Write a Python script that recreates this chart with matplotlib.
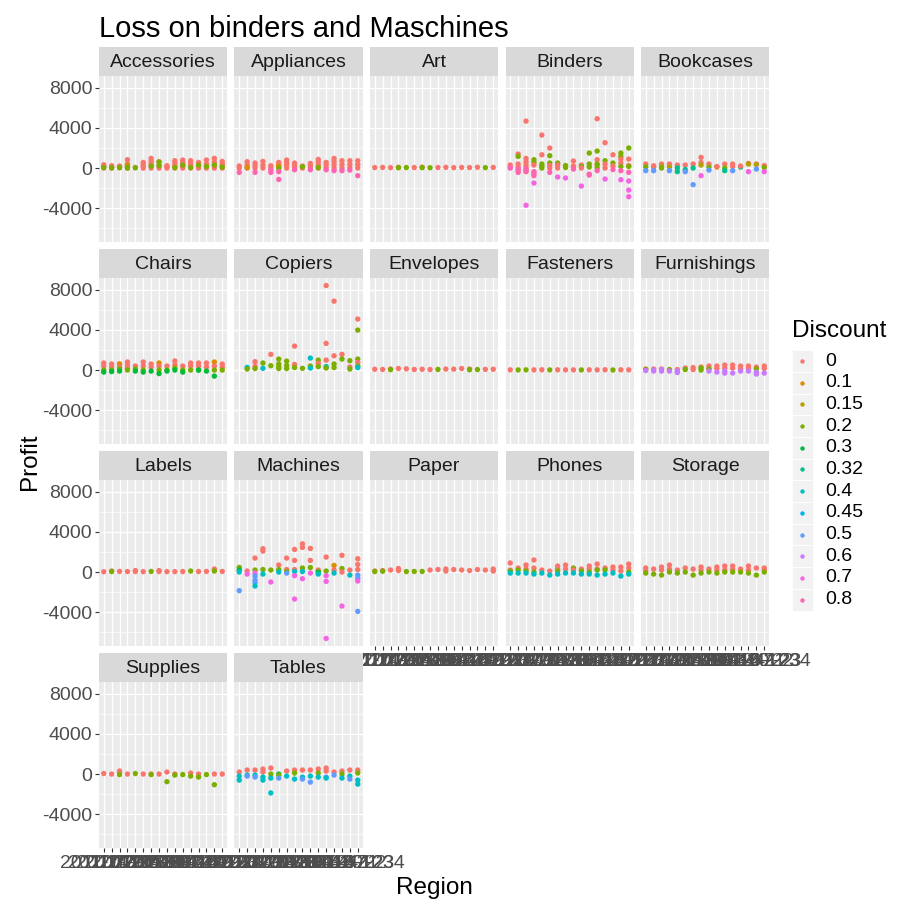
import matplotlib
matplotlib.use("Agg")
import matplotlib.pyplot as plt
from matplotlib.patches import Rectangle

plt.rcParams['font.family'] = ['Liberation Sans', 'DejaVu Sans']
plt.rcParams['axes.unicode_minus'] = False

# x categories (labels overlap in the original, as here)
x_labels = ["2011-1-03", "2011-4-07", "2011-7-11", "2011-10-2", "2012-1-06", "2012-4-10", "2012-7-14",
            "2012-10-8", "2013-1-12", "2013-4-16", "2013-7-20", "2013-10-1", "2014-1-21", "2014-4-22",
            "2014-7-23", "2014-1234"]

discounts = [0, 0.1, 0.15, 0.2, 0.3, 0.32, 0.4, 0.45, 0.5, 0.6, 0.7, 0.8]
discount_labels = ["0", "0.1", "0.15", "0.2", "0.3", "0.32", "0.4", "0.45", "0.5", "0.6", "0.7", "0.8"]
discount_colors = ["#F8766D", "#DE8C00", "#B79F00", "#7CAE00", "#00BA38", "#00C08B",
                   "#00BFC4", "#00B4F0", "#619CFF", "#C77CFF", "#F564E3", "#FF64B0"]

# points per sub-category: (x index, discount, profit)
accessories = [
    (0, 0, 0), (0, 0, 150), (0, 0, 330), (0, .2, 50),
    (1, 0, 0), (1, 0, 100), (1, 0, 230), (1, .2, 20),
    (2, 0, 50), (2, 0, 200), (2, .2, 30),
    (3, 0, 0), (3, 0, 200), (3, 0, 400), (3, 0, 830), (3, .1, 300), (3, .2, 100), (3, .2, 0),
    (4, 0, 60), (4, .2, 20),
    (5, 0, 0), (5, 0, 200), (5, 0, 400), (5, 0, 560),
    (6, 0, 0), (6, 0, 250), (6, 0, 500), (6, 0, 700), (6, 0, 960), (6, .2, 200),
    (7, 0, 0), (7, 0, 250), (7, 0, 630), (7, .2, 600), (7, .2, 250),
    (8, 0, 0), (8, 0, 120), (8, 0, 230),
    (9, 0, 0), (9, 0, 250), (9, 0, 480), (9, 0, 730), (9, .2, 50),
    (10, 0, 0), (10, 0, 200), (10, 0, 400), (10, 0, 600), (10, 0, 800), (10, .2, 300),
    (11, 0, 0), (11, 0, 250), (11, 0, 480), (11, 0, 730), (11, .2, 50),
    (12, 0, 0), (12, 0, 200), (12, 0, 560), (12, .2, 300),
    (13, 0, 0), (13, 0, 200), (13, 0, 400), (13, 0, 800), (13, .2, 150),
    (14, 0, 0), (14, 0, 300), (14, 0, 600), (14, 0, 960), (14, .2, 300),
    (15, 0, 0), (15, 0, 200), (15, 0, 400), (15, 0, 660), (15, .2, 100),
]
appliances = [
    (0, 0, 0), (0, 0, 200), (0, .8, -430),
    (1, 0, 0), (1, 0, 300), (1, 0, 630), (1, .1, 60),
    (2, 0, 0), (2, 0, 250), (2, 0, 500), (2, .8, -430),
    (3, 0, 0), (3, 0, 300), (3, 0, 660),
    (4, 0, 0), (4, 0, 230), (4, .8, -200), (4, .8, -430),
    (5, 0, 0), (5, 0, 300), (5, 0, 560), (5, .1, 200), (5, .2, 0), (5, .8, -360), (5, .8, -1130),
    (6, 0, 0), (6, 0, 300), (6, 0, 550), (6, 0, 800),
    (7, 0, 0), (7, 0, 250), (7, 0, 500), (7, .8, -170),
    (8, 0, 0), (8, 0, 200), (8, .2, 130),
    (9, 0, 0), (9, 0, 250), (9, 0, 460), (9, .8, -170),
    (10, 0, 0), (10, 0, 300), (10, 0, 600), (10, 0, 860), (10, .2, 50),
    (11, 0, 0), (11, 0, 300), (11, 0, 560), (11, .8, -170),
    (12, 0, 0), (12, 0, 350), (12, 0, 650), (12, 0, 960), (12, .8, -260),
    (13, 0, 0), (13, 0, 350), (13, 0, 730), (13, .8, -260),
    (14, 0, 0), (14, 0, 350), (14, 0, 730), (14, .8, -200),
    (15, 0, 0), (15, 0, 350), (15, 0, 730), (15, .8, -760),
]
art = [
    (0, 0, 50), (1, 0, 60), (2, 0, 40), (3, 0, 80), (3, .2, 30), (4, .2, 50), (5, 0, 50), (6, 0, 90),
    (6, .2, 40), (7, .2, 30), (8, 0, 50), (9, 0, 70), (10, 0, 40), (11, 0, 60), (12, 0, 50),
    (13, 0, 80), (14, .2, 40), (15, 0, 60),
]
binders = [
    (0, 0, 300), (0, .7, 0), (0, .8, 50),
    (1, 0, 1390), (1, .2, 1160), (1, 0, 400), (1, 0, 100), (1, 0, -200), (1, .8, -100), (1, .8, -430),
    (2, 0, 4670), (2, 0, 960), (2, 0, 600), (2, 0, 300), (2, 0, 0), (2, 0, -360), (2, .8, -100),
    (2, .8, -300), (2, .7, -3700),
    (3, .2, 830), (3, .2, 560), (3, 0, 300), (3, .8, -360), (3, .8, -560), (3, .8, -760), (3, .7, -1490),
    (4, 0, 3280), (4, 0, 1320), (4, .2, 400), (4, .2, 200), (4, .2, 0),
    (5, 0, 1990), (5, .2, 1230), (5, .2, 500), (5, 0, 250), (5, 0, 0), (5, .8, -430),
    (6, .2, 500), (6, 0, 300), (6, 0, 0), (6, .7, -890),
    (7, .2, 250), (7, .2, 50), (7, .7, -990),
    (8, 0, 700), (8, 0, 200), (8, 0, 50), (8, .8, -100),
    (9, 0, 300), (9, .2, 150), (9, 0, 0), (9, .7, -1790),
    (10, .2, 1490), (10, .2, 400), (10, .2, 100), (10, .8, -600), (10, .8, -700),
    (11, 0, 4900), (11, .2, 1690), (11, 0, 830), (11, 0, 300), (11, .2, 400), (11, .2, 0), (11, .8, -260),
    (12, 0, 2520), (12, .2, 730), (12, 0, 400), (12, 0, 0), (12, .7, -1090),
    (13, 0, 1320), (13, .2, 500), (13, 0, 200), (13, .8, -150),
    (14, .2, 1490), (14, .2, 1160), (14, 0, 890), (14, 0, 500), (14, .2, 150), (14, .8, -260),
    (14, .7, -1160),
    (15, .2, 1990), (15, 0, 890), (15, 0, 250), (15, .2, 150), (15, .8, -430), (15, .7, -1290),
    (15, .7, -2190), (15, .7, -2850),
]
bookcases = [
    (0, 0, 400), (0, .2, 100), (0, .5, -260),
    (1, 0, 230), (1, 0, 50), (1, .5, -260),
    (2, 0, 400), (2, .15, 150), (2, .2, 0),
    (3, 0, 400), (3, .15, 100), (3, .5, -260),
    (4, 0, 300), (4, .32, 0), (4, .32, -360),
    (5, 0, 300), (5, .32, -150), (5, .5, -360),
    (6, 0, 400), (6, .32, 0), (6, .5, -1650),
    (7, 0, 1060), (7, 0, 550), (7, .15, 300), (7, .7, -760),
    (8, 0, 400), (8, .2, 100), (8, .5, -200),
    (9, .15, 100), (9, 0, 150),
    (10, 0, 400), (10, .2, 0), (10, .32, -260),
    (11, 0, 400), (11, 0, 150), (11, .5, -260),
    (12, .32, 100), (12, 0, 200),
    (13, 0, 460), (13, .15, 400), (13, .7, -360),
    (14, 0, 400), (14, .15, 350), (14, .5, -100),
    (15, 0, 250), (15, .2, 50), (15, .7, -360),
]
chairs = [
    (0, 0, 700), (0, 0, 400), (0, .2, 0), (0, .3, -200),
    (1, 0, 600), (1, 0, 300), (1, .2, 0), (1, .3, -150),
    (2, 0, 600), (2, .1, 600), (2, 0, 300), (2, .2, 100), (2, .3, -100),
    (3, 0, 800), (3, 0, 500), (3, 0, 200), (3, .2, 0),
    (4, 0, 400), (4, .2, 100), (4, .3, -100),
    (5, 0, 800), (5, 0, 400), (5, .2, 0), (5, .3, -200),
    (6, 0, 600), (6, 0, 300), (6, .3, -100),
    (7, .1, 700), (7, 0, 400), (7, .2, 0), (7, .3, -350),
    (8, 0, 400), (8, .2, 0), (8, .3, -100),
    (9, 0, 900), (9, 0, 500), (9, .2, 200), (9, .3, 0),
    (10, 0, 400), (10, .2, 0), (10, .3, -200),
    (11, 0, 700), (11, 0, 400), (11, .2, 0),
    (12, 0, 700), (12, 0, 400), (12, .2, 0), (12, .3, 0),
    (13, 0, 700), (13, 0, 300), (13, .3, -100),
    (14, .1, 800), (14, 0, 400), (14, .2, 0), (14, .3, -600),
    (15, 0, 600), (15, 0, 300), (15, .2, 0),
]
copiers = [
    (1, .4, 260), (1, .2, 100),
    (2, 0, 830), (2, 0, 360), (2, .2, 150),
    (3, .2, 700), (3, .4, 170),
    (4, 0, 1560), (4, .2, 430),
    (5, .2, 1090), (5, .2, 600), (5, .2, 350), (5, .2, 150),
    (6, .2, 890), (6, .2, 450), (6, .2, 150),
    (7, 0, 2380), (7, 0, 560), (7, .2, 250),
    (8, .2, 170),
    (9, .4, 1190), (9, .2, 400), (9, .4, 200),
    (10, .2, 990), (10, 0, 660), (10, .2, 350),
    (11, 0, 8400), (11, 0, 2650), (11, 0, 990), (11, .4, 350), (11, .2, 200),
    (12, 0, 6850), (12, 0, 1420), (12, .2, 600), (12, .2, 250),
    (13, 0, 1560), (13, .2, 1090),
    (14, .2, 930), (14, 0, 300), (14, .2, 100),
    (15, 0, 5070), (15, .2, 3970), (15, .2, 1090), (15, 0, 760), (15, .2, 400), (15, .4, 250),
]
envelopes = [
    (0, 0, 80), (1, 0, 60), (2, 0, 100), (2, .2, 40), (3, 0, 150), (4, 0, 120), (5, 0, 60), (6, 0, 80),
    (7, 0, 50), (8, .2, 60), (9, 0, 100), (10, 0, 90), (11, 0, 150), (12, 0, 100), (12, .2, 30),
    (13, .2, 50), (14, 0, 70), (15, 0, 80),
]
fasteners = [
    (0, 0, 20), (1, .2, 15), (2, .2, 20), (3, 0, 20), (4, 0, 30), (5, .2, 15), (6, 0, 25), (7, 0, 20),
    (8, 0, 20), (9, .2, 15), (10, 0, 25), (11, 0, 20), (12, 0, 30), (13, .2, 10), (14, 0, 25), (15, 0, 20),
]
furnishings = [
    (0, 0, 100), (0, .2, 50), (0, .6, -50),
    (1, 0, 100), (1, .6, 0), (1, .6, -100),
    (2, 0, 100), (2, .6, 50), (2, .6, -100),
    (3, 0, 0), (3, .2, 50), (3, .6, -100),
    (4, 0, 50), (4, .6, -100), (4, .6, -250),
    (5, 0, 200), (5, .2, 50),
    (6, 0, 250), (6, 0, 50),
    (7, 0, 300), (7, .2, 200), (7, .2, 0),
    (8, 0, 400), (8, 0, 150), (8, .2, 100), (8, .6, -100),
    (9, 0, 400), (9, 0, 150), (9, .6, -200),
    (10, 0, 500), (10, 0, 200), (10, .6, -100), (10, .6, -300),
    (11, 0, 500), (11, 0, 200), (11, .6, -300),
    (12, 0, 400), (12, 0, 100), (12, .6, -100),
    (13, 0, 400), (13, 0, 150), (13, .6, -100),
    (14, 0, 300), (14, .2, 100), (14, .6, -200), (14, .6, -400),
    (15, 0, 400), (15, 0, 150), (15, .6, -300),
]
labels = [
    (0, 0, 30), (1, 0, 100), (1, .2, 50), (2, 0, 60), (3, 0, 50), (4, 0, 150), (4, 0, 50), (5, 0, 40),
    (6, .2, 60), (7, 0, 150), (7, 0, 50), (8, 0, 40), (9, 0, 40), (10, 0, 50), (11, .2, 100), (12, 0, 50),
    (13, 0, 60), (14, 0, 300), (14, .2, 100), (15, 0, 60),
]
machines = [
    (0, .2, 460), (0, .3, 200), (0, .4, 0), (0, .5, -1850),
    (1, 0, 100), (1, .7, -200),
    (2, 0, 1390), (2, .2, 200), (2, .7, -100), (2, .5, -400), (2, .5, -800), (2, .5, -1060), (2, .4, -1390),
    (3, 0, 2320), (3, 0, 2090), (3, .2, 250), (3, .4, -200),
    (4, .2, 200), (4, .7, -990),
    (5, 0, 700), (5, .2, 250), (5, .4, 0),
    (6, 0, 1390), (6, 0, 250), (6, .2, 50), (6, .5, -100),
    (7, 0, 2250), (7, 0, 1160), (7, 0, 250), (7, .4, 50), (7, .7, -360), (7, .7, -2680),
    (8, 0, 2810), (8, 0, 2450), (8, .2, 400), (8, .4, 50), (8, .7, -660),
    (9, 0, 2350), (9, 0, 1160), (9, .2, 450), (9, .7, -100),
    (10, 0, 200), (10, .2, 50), (10, .3, -50), (10, .4, -200),
    (11, 0, 1490), (11, .2, 100), (11, .7, -360), (11, .7, -930), (11, .7, -6600),
    (12, .1, 660), (12, 0, 200), (12, .4, -100),
    (13, 0, 1660), (13, .2, 350), (13, 0, 0), (13, .7, -3380),
    (14, 0, 200), (14, .4, -300),
    (15, 0, 1320), (15, 0, 760), (15, 0, 250), (15, .5, -300), (15, .5, -600), (15, .7, -890),
    (15, .5, -3910),
]
paper = [
    (0, 0, 100), (0, .2, 50), (1, 0, 150), (1, .2, 80), (2, 0, 200), (3, 0, 350), (3, 0, 150), (4, .2, 50),
    (5, .2, 60), (6, .2, 60), (7, 0, 200), (8, 0, 250), (9, 0, 300), (9, 0, 100), (10, 0, 250),
    (11, 0, 200), (12, 0, 150), (13, 0, 250), (14, 0, 200), (15, 0, 300), (15, 0, 100),
]
phones = [
    (0, 0, 900), (0, 0, 200), (0, .2, 100), (0, .4, -100),
    (1, 0, 400), (1, .2, 200), (1, .4, -100),
    (2, 0, 700), (2, 0, 300), (2, .2, 100), (2, .4, -100),
    (3, 0, 1200), (3, 0, 400), (3, .2, 0), (3, .4, -200),
    (4, 0, 200), (4, .4, -100),
    (5, 0, 100), (5, .4, -300),
    (6, 0, 600), (6, 0, 300), (6, .2, 100), (6, .4, -200),
    (7, 0, 700), (7, 0, 300), (7, .4, -100),
    (8, .2, 400), (8, 0, 200), (8, .4, -100),
    (9, 0, 300), (9, .2, 100), (9, .4, -200),
    (10, 0, 600), (10, 0, 300), (10, .2, 0), (10, .4, -200),
    (11, 0, 800), (11, 0, 300), (11, .2, 200), (11, .4, -300),
    (12, 0, 400), (12, .2, 200), (12, .4, -200),
    (13, 0, 500), (13, 0, 200), (13, .4, -100),
    (14, 0, 500), (14, 0, 100), (14, .4, -400),
    (15, 0, 800), (15, 0, 400), (15, .2, 0), (15, .4, -200),
]
storage = [
    (0, 0, 400), (0, 0, 100), (0, .2, -100),
    (1, 0, 300), (1, .2, -200),
    (2, 0, 500), (2, 0, 200), (2, .2, -300),
    (3, 0, 700), (3, 0, 300), (3, .2, 0),
    (4, 0, 200), (4, .2, -100),
    (5, 0, 400), (5, .2, 0),
    (6, 0, 300), (6, .2, -300),
    (7, 0, 500), (7, 0, 200), (7, .2, -100),
    (8, 0, 300), (8, .2, 0),
    (9, 0, 500), (9, 0, 200), (9, .2, -100),
    (10, 0, 600), (10, 0, 200), (10, .2, 0),
    (11, 0, 600), (11, 0, 250), (11, .2, 0),
    (12, 0, 300), (12, .2, 0),
    (13, 0, 600), (13, 0, 200), (13, .2, -100),
    (14, 0, 400), (14, .2, -300),
    (15, 0, 400), (15, 0, 200), (15, .2, 0),
]
supplies = [
    (0, 0, 50), (1, 0, 0), (2, 0, 300), (2, 0, 100), (2, .2, -50), (3, 0, 0), (4, .2, 50), (5, 0, 0),
    (6, 0, 0), (6, .2, -50), (7, 0, 0), (8, 0, 200), (8, .2, -760), (9, 0, 0), (9, .2, -100),
    (10, .2, -50), (11, 0, 100), (11, .2, -200), (12, 0, 0), (12, .2, -300), (13, .2, -50),
    (14, 0, 0), (14, .2, -1060), (15, 0, 0),
]
tables = [
    (0, 0, 200), (0, .4, -200), (0, .4, -600),
    (1, 0, 400), (1, .4, -100), (1, .5, -200),
    (2, 0, 400), (2, .4, -100), (2, .5, -300),
    (3, 0, 500), (3, 0, 200), (3, .4, -300), (3, .4, -600),
    (4, 0, 600), (4, .2, 0), (4, .4, -400), (4, .4, -1880),
    (5, .3, 0), (5, .2, -100), (5, .5, -400),
    (6, 0, 300), (6, .4, -200),
    (7, 0, 400), (7, .2, 100), (7, .4, -500),
    (8, 0, 400), (8, .4, -300), (8, .5, -500),
    (9, 0, 400), (9, .4, -200), (9, .5, -800),
    (10, 0, 500), (10, .2, 100), (10, .4, -300),
    (11, 0, 600), (11, 0, 300), (11, .5, -300), (11, .4, -400),
    (12, 0, 200), (12, .5, -100),
    (13, 0, 300), (13, .2, 0), (13, .4, -400),
    (14, 0, 400), (14, .4, -200), (14, .5, -500),
    (15, 0, 400), (15, .2, 100), (15, .4, -600), (15, .4, -1000),
]

sub_categories = ["Accessories", "Appliances", "Art", "Binders", "Bookcases", "Chairs", "Copiers",
                  "Envelopes", "Fasteners", "Furnishings", "Labels", "Machines", "Paper", "Phones",
                  "Storage", "Supplies", "Tables"]
panel_points = [accessories, appliances, art, binders, bookcases, chairs, copiers, envelopes, fasteners,
                furnishings, labels, machines, paper, phones, storage, supplies, tables]

W, H = 910, 909
fig = plt.figure(figsize=(W / 100, H / 100), dpi=100)


def px_rect(left, top, w, h):
    return [left / W, 1 - (top + h) / H, w / W, h / H]


col_left = [99, 234.5, 370, 505.5, 641]
strip_top = [47, 249, 451, 653]
panel_w, strip_h, panel_h = 128, 29, 166
color_of = dict(zip(discounts, discount_colors))

for k, (name, pts) in enumerate(zip(sub_categories, panel_points)):
    r, c = divmod(k, 5)
    sax = fig.add_axes(px_rect(col_left[c], strip_top[r], panel_w, strip_h))
    sax.set_facecolor("#D9D9D9")
    sax.set_xticks([]); sax.set_yticks([])
    for s in sax.spines.values():
        s.set_visible(False)
    sax.text(0.5, 0.47, name, ha="center", va="center", fontsize=14, color="#1A1A1A", transform=sax.transAxes)

    ax = fig.add_axes(px_rect(col_left[c], strip_top[r] + strip_h, panel_w, panel_h))
    ax.set_facecolor("#EBEBEB")
    for s in ax.spines.values():
        s.set_visible(False)
    ax.set_xlim(-0.6, 15.6)
    ax.set_ylim(-7350, 9150)
    ax.set_xticks(range(len(x_labels)))
    ax.set_xticklabels(x_labels)
    ax.set_yticks([-4000, 0, 4000, 8000])
    ax.set_yticks([-6000, -2000, 2000, 6000], minor=True)
    ax.grid(which="major", color="white", lw=0.9)
    ax.grid(which="minor", axis="y", color="white", lw=0.45)
    ax.set_axisbelow(True)
    ax.tick_params(which="minor", length=0)
    ax.tick_params(which="major", length=3.2, width=0.8, color="#333333", labelsize=14,
                   labelcolor="#4D4D4D", pad=1.5)
    if c != 0:
        ax.tick_params(axis="y", left=False, labelleft=False)
    if k + 5 < len(sub_categories):
        ax.tick_params(axis="x", bottom=False, labelbottom=False)

    xs = [p[0] for p in pts]
    ys = [p[2] for p in pts]
    cols = [color_of[p[1]] for p in pts]
    ax.scatter(xs, ys, c=cols, s=15, linewidths=0, zorder=3)

fig.text(99 / W, 1 - 37 / H, "Loss on binders and Maschines", fontsize=21, va="baseline", ha="left")
fig.text(434 / W, 1 - 894 / H, "Region", fontsize=17.5, va="baseline", ha="center")
fig.text(30 / W, 1 - 462 / H, "Profit", fontsize=17.5, va="center", ha="center", rotation=90)

# legend
lax = fig.add_axes(px_rect(780, 300, 130, 320))
lax.set_xlim(780, 910)
lax.set_ylim(620, 300)
lax.axis("off")
lax.text(792, 337, "Discount", fontsize=17.5, va="baseline", ha="left")
key_h = 21.7
for i, (lab, col) in enumerate(zip(discount_labels, discount_colors)):
    cy = 361 + key_h * i
    lax.add_patch(Rectangle((792, cy - key_h / 2), 20.7, key_h, facecolor="#F2F2F2",
                            edgecolor="white", lw=0.6))
    lax.scatter([802], [cy], s=10, color=col, linewidths=0, zorder=3)
    lax.text(825, cy, lab, fontsize=14, va="center", ha="left")

fig.savefig("out.png", dpi=100)
